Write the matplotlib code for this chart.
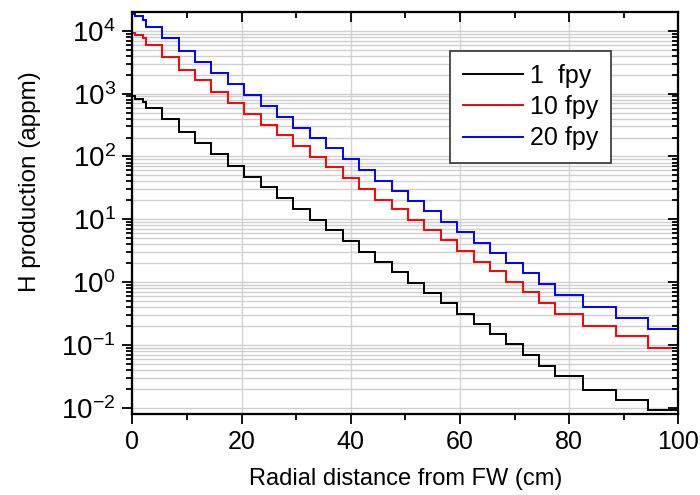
import numpy as np
import matplotlib
matplotlib.use("Agg")
import matplotlib.pyplot as plt
from matplotlib.ticker import FixedLocator, MultipleLocator, NullFormatter

plt.rcParams['font.family'] = ['Liberation Sans', 'DejaVu Sans']
plt.rcParams['axes.unicode_minus'] = False

# bin edges (cm) and H production per bin (appm)
edges = [0, 0.5, 2, 2.5, 5.5, 8.5, 11.5, 14.5, 17.5, 20.5, 23.5, 26.5, 29.5,
         32.5, 35.5, 38.5, 41.5, 44.5, 47.5, 50.5, 53.5, 56.5, 59.5, 62.5,
         65.5, 68.5, 71.5, 74.5, 77.5, 82.5, 88.5, 94.5, 100]

h_1fpy = [912, 809, 733, 589, 390, 245, 161, 108, 71.1, 47.6, 32.4, 21.7,
          14.5, 9.58, 6.65, 4.57, 3.06, 2.09, 1.44, 0.977, 0.679, 0.459,
          0.308, 0.214, 0.147, 0.102, 0.0699, 0.0468, 0.0318, 0.0195,
          0.0135, 0.0091]
h_10fpy = [9200, 8550, 7550, 5940, 3780, 2410, 1620, 1080, 706, 480, 321,
           218, 147, 98.6, 67.0, 44.9, 30.1, 20.4, 14.4, 9.82, 6.82, 4.62,
           3.10, 2.12, 1.49, 1.01, 0.694, 0.459, 0.316, 0.201, 0.139, 0.088]
h_20fpy = [18800, 17300, 14900, 11700, 7550, 4820, 3190, 2140, 1430, 935,
           627, 425, 285, 197, 134, 90.8, 60.8, 41.1, 28.3, 19.6, 13.4, 9.14,
           6.18, 4.20, 2.92, 2.03, 1.41, 0.918, 0.615, 0.402, 0.273, 0.178]

labels = ['1  fpy', '10 fpy', '20 fpy']
colors = ['black', 'red', 'blue']

# decades shown on the y axis
y_exp = [-2, -1, 0, 1, 2, 3, 4]
y_major = [10.0 ** e for e in y_exp]
y_minor = [m * 10.0 ** e for e in y_exp for m in range(2, 10) if m * 10.0 ** e < 20000]

fig = plt.figure(figsize=(7, 4.95), dpi=100)
ax = fig.add_axes([0.189, 0.164, 0.780, 0.812])

for vals, lab, c in zip([h_1fpy, h_10fpy, h_20fpy], labels, colors):
    ax.stairs(vals, edges, baseline=None, color=c, linewidth=1.4, label=lab)

ax.set_yscale('log')
ax.set_xlim(0, 100)
ax.set_ylim(0.008, 20000)

ax.xaxis.set_major_locator(MultipleLocator(20))
ax.xaxis.set_minor_locator(MultipleLocator(10))
ax.yaxis.set_major_locator(FixedLocator(y_major))
ax.yaxis.set_minor_locator(FixedLocator(y_minor))
ax.yaxis.set_minor_formatter(NullFormatter())

ax.grid(True, which='major', axis='x', color='#d4d4d4', linewidth=1)
ax.grid(True, which='both', axis='y', color='#cfcfcf', linewidth=1)
ax.set_axisbelow(True)

ax.tick_params(which='both', direction='out', width=1.3)
ax.tick_params(which='major', length=7)
ax.tick_params(which='minor', length=4)
ax.tick_params(axis='x', labelsize=18, pad=5)
ax.tick_params(axis='y', labelsize=20, pad=5)

# top and right axes: inward ticks, no labels
ax_r = ax.twinx()
ax_r.set_yscale('log')
ax_r.set_ylim(ax.get_ylim())
ax_r.yaxis.set_major_locator(FixedLocator(y_major))
ax_r.yaxis.set_minor_locator(FixedLocator(y_minor))
ax_r.yaxis.set_minor_formatter(NullFormatter())
ax_r.tick_params(which='both', direction='in', labelright=False, width=1.3)
ax_r.tick_params(which='major', length=7)
ax_r.tick_params(which='minor', length=4)
ax_t = ax.twiny()
ax_t.set_xlim(ax.get_xlim())
ax_t.xaxis.set_major_locator(MultipleLocator(20))
ax_t.xaxis.set_minor_locator(MultipleLocator(10))
ax_t.tick_params(which='both', direction='in', labeltop=False, width=1.3)
ax_t.tick_params(which='major', length=7)
ax_t.tick_params(which='minor', length=4)

for a in (ax, ax_r, ax_t):
    for s in a.spines.values():
        s.set_linewidth(1.5)

ax.set_xlabel('Radial distance from FW (cm)', fontsize=17, labelpad=10)
ax.set_ylabel('H production (appm)', fontsize=17.5)
ax.yaxis.set_label_coords(-0.168, 0.577)

leg = ax_t.legend(*ax.get_legend_handles_labels(), loc='upper left',
                  bbox_to_anchor=(450 / 700, 1 - 51 / 495),
                  bbox_transform=fig.transFigure, fontsize=18, fancybox=False,
                  framealpha=1, edgecolor='#333333', handlelength=2.4,
                  handletextpad=0.3, labelspacing=0.3, borderpad=0.5,
                  borderaxespad=0)
leg.get_frame().set_linewidth(1.2)
for h in leg.legend_handles:
    h.set_linewidth(1.4)

fig.savefig('out.png', dpi=100)
